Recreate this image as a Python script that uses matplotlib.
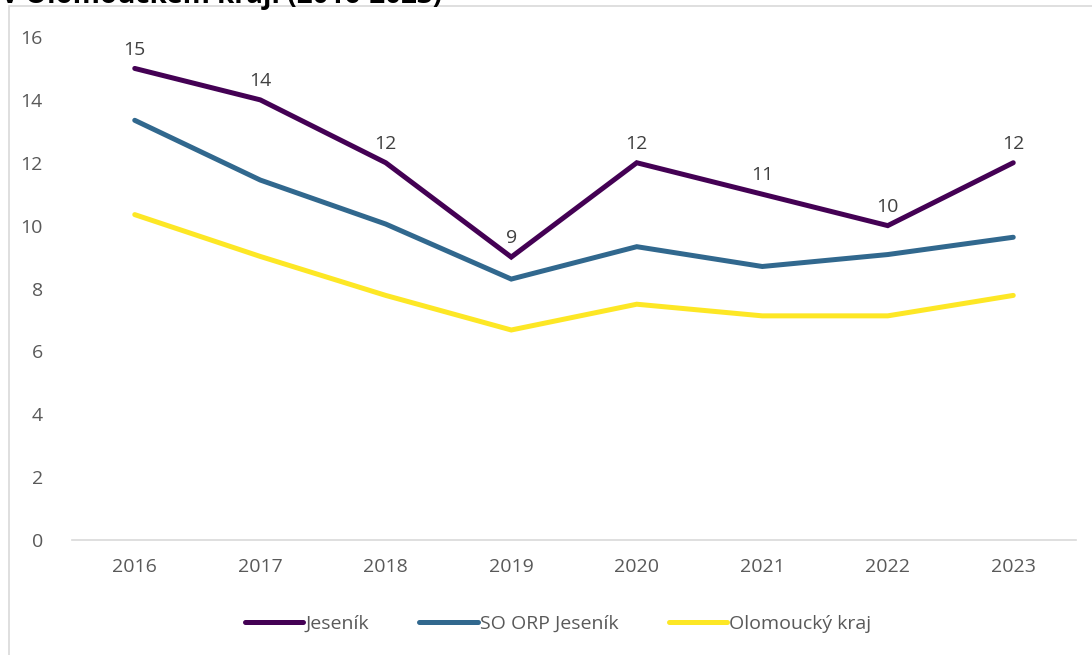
import matplotlib
matplotlib.use("Agg")
import matplotlib.pyplot as plt
from matplotlib.patches import Rectangle

years = ["2016", "2017", "2018", "2019", "2020", "2021", "2022", "2023"]
jesenik = [15, 14, 12, 9, 12, 11, 10, 12]
so_orp = [13.35, 11.45, 10.05, 8.3, 9.33, 8.7, 9.08, 9.63]
olomoucky = [10.35, 9.02, 7.78, 6.68, 7.5, 7.13, 7.13, 7.78]
series_names = ["Jeseník", "SO ORP Jeseník", "Olomoucký kraj"]
colors = ["#440154", "#31688e", "#fde725"]

plt.rcParams['font.family'] = ['Open Sans', 'DejaVu Sans']

W, H = 1092, 655
fig = plt.figure(figsize=(W / 100, H / 100), dpi=100)
fig.patch.set_facecolor("white")

# chart frame (partially outside canvas)
fig.patches.append(Rectangle((9 / W, -0.1), 1.2, 1 - 6 / H + 0.1, transform=fig.transFigure,
                             fill=False, edgecolor="#d9d9d9", linewidth=1.2))

# clipped title
fig.text(2 / W, 1 - 3 / H, "v Olomouckém kraji (2016-2023)", fontsize=20, fontweight="bold",
         color="#000000", ha="left", va="baseline")

ax = fig.add_axes([72 / W, 1 - 540 / H, (1076 - 72) / W, (540 - 37) / H])
x = list(range(len(years)))
for vals, name, c in zip([jesenik, so_orp, olomoucky], series_names, colors):
    ax.plot(x, vals, color=c, linewidth=3.6, label=name, solid_capstyle="round",
            solid_joinstyle="miter")

for xi, v in zip(x, jesenik):
    ax.annotate(f"{v}", (xi, v), xytext=(0, 7), textcoords="offset points",
                ha="center", va="bottom", fontsize=14, color="#404040")

ax.set_xlim(-0.5, len(years) - 0.5)
ax.set_ylim(0, 16)
ax.set_yticks(range(0, 17, 2))
ax.set_xticks(x)
ax.set_xticklabels(years)
for s in ["top", "right", "left"]:
    ax.spines[s].set_visible(False)
ax.spines["bottom"].set_color("#d9d9d9")
ax.spines["bottom"].set_linewidth(1.2)
ax.tick_params(axis="both", length=0, labelsize=14, labelcolor="#595959")
ax.tick_params(axis="y", pad=21)
ax.tick_params(axis="x", pad=13)
ax.set_facecolor("none")

leg = fig.legend(loc="center", bbox_to_anchor=(558 / W, 1 - 624 / H), ncol=3, frameon=False,
                 fontsize=14, handlelength=3.0, handletextpad=0.1, columnspacing=2.6)
for t in leg.get_texts():
    t.set_color("#595959")

fig.savefig("out.png", dpi=100)
